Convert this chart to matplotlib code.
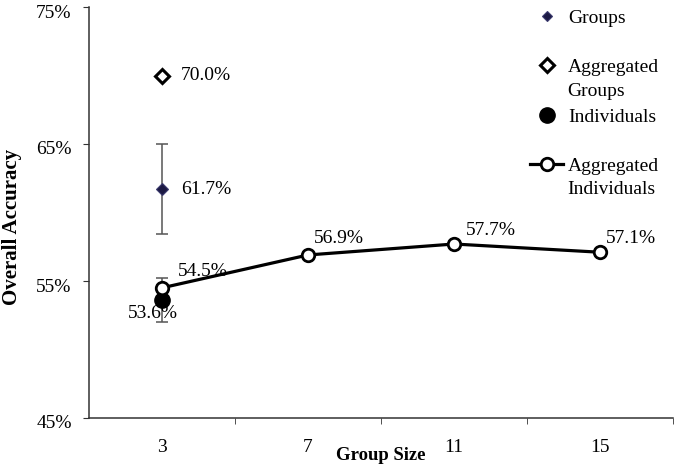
import matplotlib
matplotlib.use("Agg")
import matplotlib.pyplot as plt
from matplotlib.lines import Line2D
from matplotlib.ticker import FixedLocator, FuncFormatter
from matplotlib.transforms import ScaledTranslation

plt.rcParams['font.family'] = ['Liberation Serif', 'DejaVu Serif']

group_sizes = ["3", "7", "11", "15"]
agg_individuals = [54.5, 56.9, 57.7, 57.1]
individuals = [53.6]
individuals_err = [1.6]
groups = [61.7]
groups_err = [3.3]
agg_groups = [70.0]
y_ticks = [45, 55, 65, 75]

W, H = 677, 467
fig = plt.figure(figsize=(W/100, H/100), dpi=100)
ax = fig.add_axes([89/W, 1-418/H, (673-89)/W, (418-7)/H])

x = list(range(len(group_sizes)))
navy = '#1c1a44'

ax.errorbar([0], groups, yerr=groups_err, fmt='none', ecolor='#555555',
            elinewidth=1.1, capsize=4, capthick=1.1, zorder=2)
h_groups, = ax.plot([0], groups, 'D', color=navy, mec='#3b3a6e', mew=0.8, ms=6.5, ls='none', zorder=3)
h_agg_groups, = ax.plot([0], agg_groups, 'D', mfc='white', mec='black', mew=2.2, ms=7.5, ls='none', zorder=3)
ax.errorbar([0], individuals, yerr=individuals_err, fmt='none', ecolor='#555555',
            elinewidth=1.1, capsize=4, capthick=1.1, zorder=2)
h_ind, = ax.plot([0], individuals, 'o', color='black', ms=11, ls='none', zorder=3)
h_agg_ind, = ax.plot(x, agg_individuals, '-o', color='black', lw=2.3, mfc='white', mec='black',
                     mew=2, ms=9, zorder=4)

fs = 14
def lab(xi, v, off):
    ax.annotate(f"{v:.1f}%", (xi, v), xytext=off, textcoords='offset points',
                va='center', ha='left', fontsize=fs, zorder=5)

lab(0, agg_groups[0], (13.5, 0))
lab(0, groups[0], (13.5, 0))
lab(0, individuals[0], (-24.5, -9.4))
offsets = [(11.5, 12), (4.3, 11.5), (8.6, 10), (4.3, 10)]
for xi, v, off in zip(x, agg_individuals, offsets):
    lab(xi, v, off)

ax.set_xlim(-0.5, 3.5)
ax.set_ylim(45, 75)
ax.set_xticks(x)
ax.set_xticklabels(group_sizes, fontsize=fs)
ax.xaxis.set_minor_locator(FixedLocator([0.5, 1.5, 2.5, 3.5]))
ax.tick_params(axis='x', which='major', length=0, pad=15)
ax.tick_params(axis='x', which='minor', length=4.5, direction='out', color='#333333')
ax.set_yticks(y_ticks)
ax.yaxis.set_major_formatter(FuncFormatter(lambda v, p: f"{v:.0f}%"))
ax.tick_params(axis='y', length=4.5, direction='out', labelsize=fs, pad=8, color='#333333')
shift = ScaledTranslation(0, -4/100, fig.dpi_scale_trans)
for t in ax.get_yticklabels():
    t.set_transform(t.get_transform() + shift)
for s in ['top', 'right']:
    ax.spines[s].set_visible(False)
for s in ['left', 'bottom']:
    ax.spines[s].set_color('#333333')
    ax.spines[s].set_linewidth(1.1)

ax.set_xlabel("Group Size", fontsize=13.5, fontweight='bold', va='center')
ax.xaxis.set_label_coords((381 - 89) / (673 - 89), (418 - 455) / 411)
ax.set_ylabel("Overall Accuracy", fontsize=15, fontweight='bold', va='center')
ax.yaxis.set_label_coords((12 - 89) / (673 - 89), (418 - 227) / 411)

# legend entries (Excel-style layout)
groups_proxy = Line2D([], [], marker='D', color=navy, mec='#3b3a6e', mew=0.8, ms=5, ls='none')
entries = [
    (groups_proxy, "Groups", None, 18),
    (h_agg_groups, "Aggregated", "Groups", 67),
    (h_ind, "Individuals", None, 117),
    (h_agg_ind, "Aggregated", "Individuals", 166),
]
for handle, first, second, ypx in entries:
    fig.legend(handles=[handle], labels=[first], loc='center left',
               bbox_to_anchor=(530/W, 1 - ypx/H), bbox_transform=fig.transFigure,
               frameon=False, borderpad=0, borderaxespad=0, fontsize=fs,
               handlelength=1.7, handletextpad=0.25)
    if second:
        fig.text(567/W, 1 - (ypx + 24)/H, second, va='center', ha='left', fontsize=fs)

fig.savefig("out.png", dpi=100)
